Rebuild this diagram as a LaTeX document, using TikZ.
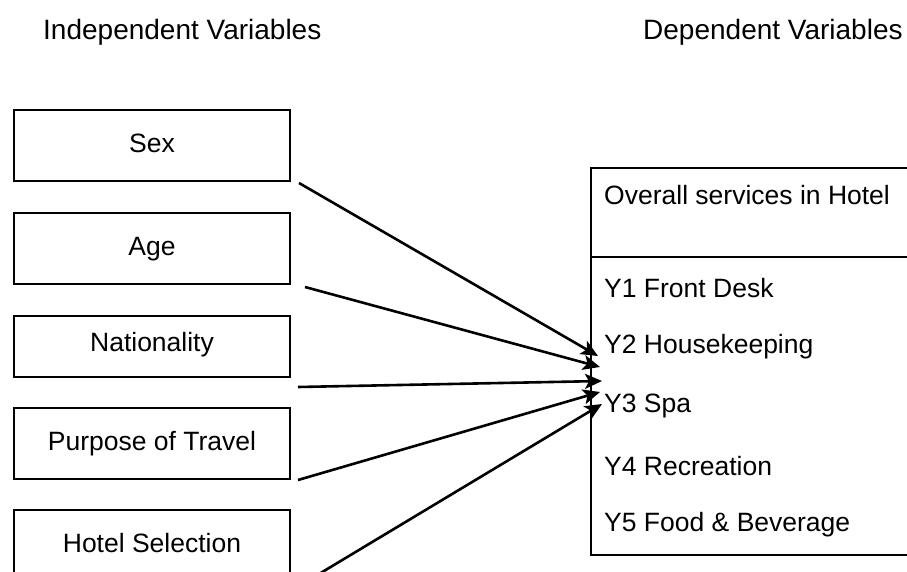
\documentclass[tikz,border=0pt]{standalone}
\usepackage{fontspec}
\setmainfont{Liberation Sans}
\usetikzlibrary{arrows.meta}
\begin{document}
\begin{tikzpicture}[x=1pt,y=-1pt,
  every node/.style={font=\fontsize{26.5}{30}\selectfont},
  head/.style={anchor=base west,inner sep=0pt,font=\fontsize{28}{32}\selectfont},
  ivbox/.style={draw,line width=2pt,minimum width=276pt,minimum height=71pt,anchor=north west,inner sep=0pt,text height=20pt,text depth=6pt},
  dvtext/.style={anchor=west,inner sep=0pt},
  link/.style={line width=2.6pt,-{Stealth[length=17pt,width=15pt,inset=4pt]}}]
\useasboundingbox (0,0) rectangle (907,572);
\clip (0,0) rectangle (907,572);
\node[head] (hi) at (43,40) {Independent Variables};
\node[head] (hd) at (643,40) {Dependent Variables};
\node[ivbox] (sex) at (13,109) {Sex};
\node[ivbox] (age) at (13,212) {Age};
\node[ivbox,minimum height=61pt,text height=18pt,text depth=8pt] (nat) at (13,315) {Nationality};
\node[ivbox] (pur) at (13,407) {Purpose of Travel};
\node[ivbox] (hot) at (13,509) {Hotel Selection};
\node[draw,line width=2pt,minimum width=340pt,minimum height=387pt,anchor=north west] (dep) at (590,167) {};
\draw[line width=2pt] (dep.west |- 0,257) -- (dep.east |- 0,257);
\node[dvtext] (ov) at (604,195) {Overall services in Hotel};
\node[dvtext] (y1) at (604,288) {Y1 Front Desk};
\node[dvtext] (y2) at (604,347) {Y2 Housekeeping};
\node[dvtext] (y3) at (604,406) {Y3 Spa};
\node[dvtext] (y4) at (604,466) {Y4 Recreation};
\node[dvtext] (y5) at (604,525) {Y5 Food \& Beverage};
\coordinate (t1) at (598,356);
\coordinate (t2) at (600,367);
\coordinate (t3) at (602,381);
\coordinate (t4) at (600,392);
\coordinate (t5) at (602,404);
\draw[link] ([xshift=8pt,yshift=-1pt]sex.south east) -- (t1);
\draw[link] ([xshift=14pt,yshift=-2pt]age.south east) -- (t2);
\draw[link] ([xshift=7pt,yshift=-9pt]nat.south east) -- (t3);
\draw[link] ([xshift=7pt]pur.south east) -- (t4);
\draw[link] ([xshift=8pt,yshift=-4pt]hot.south east) -- (t5);
\end{tikzpicture}
\end{document}
